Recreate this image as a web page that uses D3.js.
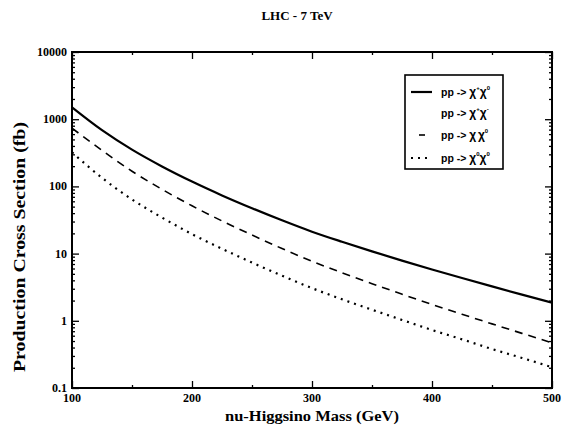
<!DOCTYPE html>
<html><head><meta charset="utf-8">
<script src="https://cdn.jsdelivr.net/npm/d3@7"></script>
<style>body{margin:0;background:#fff}svg{display:block}</style>
</head><body>
<svg id="c" width="562" height="431"></svg>
<script>
const masses = [100,125,150,175,200,225,250,275,300,325,350,375,400,425,450,475,500];
const sigmaCharginoNeutralino = [1500,686,352,198,118,73.5,47.4,31.3,21.2,15.0,10.8,7.87,5.81,4.33,3.25,2.45,1.86];
const sigmaCharginoNeutralinoB = [735,344,168,90.4,51.4,30.6,18.9,11.9,7.69,5.20,3.57,2.49,1.75,1.25,0.90,0.65,0.47];
const sigmaNeutralinoPair = [321,134,64,34.4,19.5,11.8,7.35,4.69,3.06,2.09,1.46,1.03,0.73,0.53,0.38,0.28,0.204];
const xTicks = [100,200,300,400,500];
const yTicks = [0.1,1,10,100,1000,10000];
const yTickLabels = ["0.1","1","10","100","1000","10000"];
const legendLabels = [["+","0"],["+","-"],["","0"],["0","0"]];

const svg = d3.select("#c");
const x = d3.scaleLinear().domain([100,500]).range([72,552]);
const y = d3.scaleLog().domain([0.1,10000]).range([388,52]);
const serif = "'Liberation Serif','Times New Roman',serif";
const sans = "'Liberation Sans',Arial,sans-serif";

const yMinor = [];
for (let e=-1;e<4;e++) for (let k=2;k<10;k++) yMinor.push(k*Math.pow(10,e));
const xMinor = [150,250,350,450];

const g = svg.append("g");
function ax(gen, tx, ty, vals, size){
  g.append("g").attr("transform",`translate(${tx},${ty})`)
   .call(gen.tickValues(vals).tickSize(size).tickFormat(""))
   .call(s=>s.select(".domain").remove());
}
ax(d3.axisRight(y),72,0,yTicks,7);
ax(d3.axisRight(y),72,0,yMinor,3);
ax(d3.axisLeft(y),552,0,yTicks,7);
ax(d3.axisLeft(y),552,0,yMinor,3);
ax(d3.axisTop(x),0,388,xTicks,7);
ax(d3.axisTop(x),0,388,xMinor,3);
ax(d3.axisBottom(x),0,52,xTicks,7);
ax(d3.axisBottom(x),0,52,xMinor,3);
g.selectAll(".tick line").attr("stroke","#000").attr("stroke-width",1.3);

svg.append("rect").attr("x",72).attr("y",52).attr("width",480).attr("height",336)
  .attr("fill","none").attr("stroke","#000").attr("stroke-width",2);

svg.append("g").selectAll("text").data(yTicks).join("text")
  .attr("x",67).attr("y",d=>y(d)+4).attr("text-anchor","end")
  .attr("font-family",serif).attr("font-weight","bold").attr("font-size",12)
  .text((d,i)=>yTickLabels[i]);
svg.append("g").selectAll("text").data(xTicks).join("text")
  .attr("x",d=>x(d)).attr("y",402).attr("text-anchor","middle")
  .attr("font-family",serif).attr("font-weight","bold").attr("font-size",12)
  .text(d=>d);

const line = d3.line().x((d,i)=>x(masses[i])).y(d=>y(d)).curve(d3.curveMonotoneX);
svg.append("clipPath").attr("id","pc").append("rect")
  .attr("x",72).attr("y",52).attr("width",480).attr("height",336);
const lines = svg.append("g").attr("clip-path","url(#pc)");
lines.append("path").attr("d",line(sigmaCharginoNeutralino)).attr("fill","none")
  .attr("stroke","#000").attr("stroke-width",2.2);
lines.append("path").attr("d",line(sigmaCharginoNeutralinoB)).attr("fill","none")
  .attr("stroke","#000").attr("stroke-width",1.6).attr("stroke-dasharray","8,6");
lines.append("path").attr("d",line(sigmaNeutralinoPair)).attr("fill","none")
  .attr("stroke","#000").attr("stroke-width",2.2).attr("stroke-dasharray","2,5");

svg.append("text").attr("x",297).attr("y",20).attr("text-anchor","middle")
  .attr("font-family",serif).attr("font-weight","bold").attr("font-size",13).text("LHC - 7 TeV");
svg.append("text").attr("x",312).attr("y",421).attr("text-anchor","middle")
  .attr("font-family",serif).attr("font-weight","bold").attr("font-size",15)
  .attr("textLength",174).attr("lengthAdjust","spacingAndGlyphs").text("nu-Higgsino Mass (GeV)");
svg.append("text").attr("transform","translate(25,247) rotate(-90)").attr("text-anchor","middle")
  .attr("font-family",serif).attr("font-weight","bold").attr("font-size",16)
  .attr("textLength",250).attr("lengthAdjust","spacingAndGlyphs").text("Production Cross Section (fb)");

const leg = svg.append("g");
leg.append("rect").attr("x",405).attr("y",75).attr("width",98).attr("height",94)
  .attr("fill","#fff").attr("stroke","#000").attr("stroke-width",1.6);
const legRows = [
  {y:92, dash:null, w:2.2, show:true, len:[411,432]},
  {y:113, dash:null, w:0, show:false, len:[411,432]},
  {y:135, dash:null, w:1.6, show:true, len:[419,425]},
  {y:158, dash:"2,5", w:2.2, show:true, len:[411,432]}
];
legRows.forEach((r,i)=>{
  if (r.show) leg.append("line").attr("x1",r.len[0]).attr("x2",r.len[1]).attr("y1",r.y).attr("y2",r.y)
    .attr("stroke","#000").attr("stroke-width",r.w).attr("stroke-dasharray",r.dash);
  const t = leg.append("text").attr("x",441).attr("y",r.y+4)
    .attr("font-family",sans).attr("font-weight","bold").attr("font-size",10.5);
  t.append("tspan").text("pp -> ");
  t.append("tspan").attr("font-size",12).text("χ");
  t.append("tspan").attr("dy",-6).attr("font-size",6).text(legendLabels[i][0]||"\u00a0");
  t.append("tspan").attr("dy",6).attr("font-size",12).text("χ");
  t.append("tspan").attr("dy",-6).attr("font-size",6).text(legendLabels[i][1]);
});
</script>
</body></html>
